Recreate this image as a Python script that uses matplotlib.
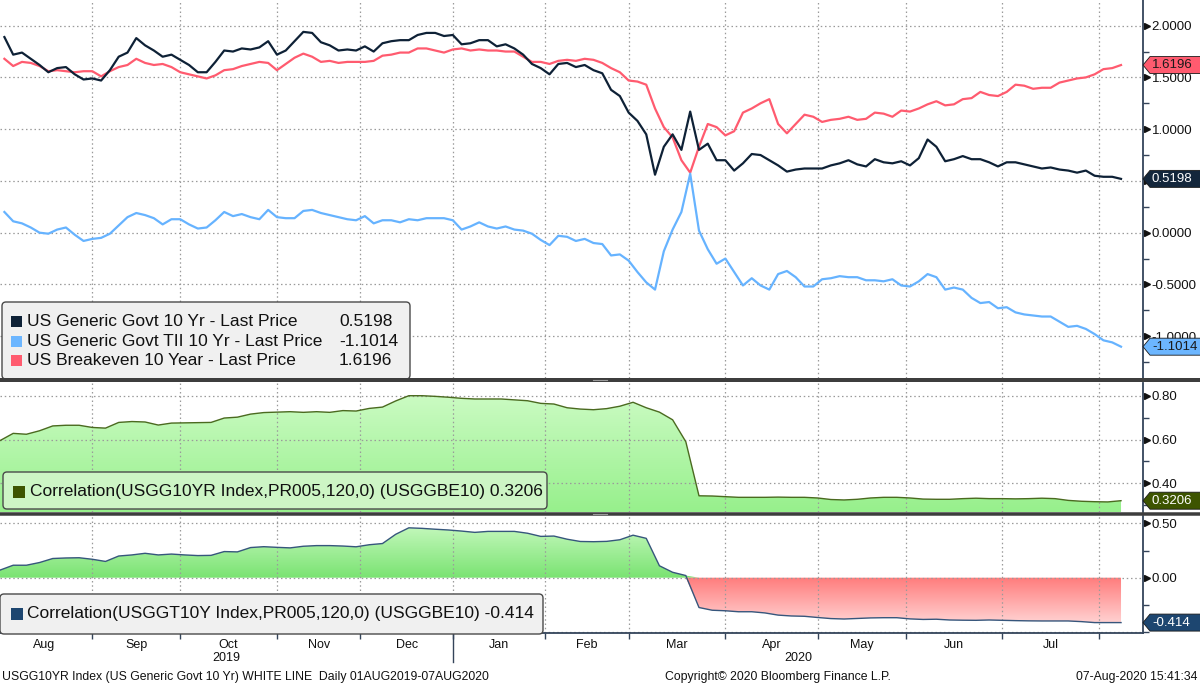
import numpy as np
import pandas as pd
import matplotlib
matplotlib.use("Agg")
import matplotlib.pyplot as plt
import matplotlib.transforms as mtransforms
from matplotlib.colors import LinearSegmentedColormap
from matplotlib.lines import Line2D
from matplotlib.patches import FancyBboxPatch, Polygon, Rectangle
from matplotlib.ticker import (FixedFormatter, FixedLocator, FuncFormatter,
                               MultipleLocator, NullFormatter)

plt.rcParams["font.family"] = ["Liberation Sans", "DejaVu Sans"]

# US bond market holidays -> the chart's x axis runs on trading days
holidays = ["2019-09-02", "2019-10-14", "2019-11-11", "2019-11-28", "2019-12-25",
            "2020-01-01", "2020-01-20", "2020-02-17", "2020-04-10", "2020-05-25",
            "2020-07-03"]
start, end = "2019-08-01", "2020-08-07"

us10y = [1.89, 1.72, 1.74, 1.68, 1.62, 1.55, 1.59, 1.60, 1.53, 1.48,
         1.49, 1.47, 1.57, 1.70, 1.74, 1.88, 1.81, 1.76, 1.70, 1.72,
         1.67, 1.62, 1.55, 1.55, 1.65, 1.76, 1.75, 1.78, 1.77, 1.79,
         1.85, 1.72, 1.76, 1.85, 1.94, 1.93, 1.84, 1.81, 1.76, 1.77,
         1.76, 1.80, 1.75, 1.83, 1.85, 1.86,
         1.86, 1.91, 1.93, 1.93, 1.90, 1.91, 1.82, 1.83, 1.86, 1.86,
         1.80, 1.82, 1.78, 1.72, 1.63, 1.59, 1.53, 1.63, 1.64, 1.60,
         1.62, 1.57, 1.54, 1.38, 1.32, 1.16, 1.08, 0.95, 0.56, 0.83,
         0.95, 0.80, 1.17, 0.80, 0.86, 0.70, 0.70, 0.60, 0.67, 0.76,
         0.75, 0.70, 0.65, 0.59, 0.61, 0.62,
         0.62, 0.62, 0.65, 0.67, 0.70, 0.66, 0.64, 0.71, 0.68, 0.67,
         0.69, 0.65, 0.72, 0.90, 0.83, 0.69, 0.71, 0.74, 0.71, 0.71,
         0.68, 0.64, 0.68, 0.68, 0.66, 0.64, 0.62, 0.63, 0.61, 0.60,
         0.58, 0.60, 0.55, 0.54, 0.54, 0.5198]
tips10y = [0.20, 0.11, 0.09, 0.05, 0.00, -0.01, 0.03, 0.05, -0.02, -0.08,
           -0.06, -0.05, -0.01, 0.07, 0.15, 0.19, 0.17, 0.14, 0.08, 0.13,
           0.13, 0.08, 0.04, 0.05, 0.12, 0.20, 0.16, 0.18, 0.15, 0.13,
           0.22, 0.15, 0.14, 0.14, 0.21, 0.22, 0.19, 0.17, 0.15, 0.13,
           0.12, 0.16, 0.09, 0.12, 0.12, 0.10,
           0.13, 0.12, 0.14, 0.14, 0.14, 0.12, 0.03, 0.06, 0.10, 0.06,
           0.04, 0.06, 0.03, 0.02, -0.01, -0.07, -0.12, -0.03, -0.04, -0.08,
           -0.06, -0.10, -0.11, -0.22, -0.21, -0.27, -0.38, -0.48, -0.55, -0.18,
           0.03, 0.20, 0.57, 0.02, -0.16, -0.30, -0.25, -0.38, -0.51, -0.44,
           -0.51, -0.55, -0.40, -0.37, -0.43, -0.52,
           -0.52, -0.45, -0.44, -0.42, -0.43, -0.43, -0.46, -0.46, -0.47, -0.45,
           -0.51, -0.52, -0.47, -0.40, -0.43, -0.55, -0.53, -0.55, -0.63, -0.68,
           -0.67, -0.73, -0.72, -0.77, -0.79, -0.80, -0.81, -0.81, -0.86, -0.91,
           -0.90, -0.93, -0.98, -1.04, -1.06, -1.1014]
bei10y = [1.68, 1.61, 1.65, 1.64, 1.61, 1.56, 1.57, 1.56, 1.55, 1.56,
          1.56, 1.51, 1.56, 1.60, 1.62, 1.68, 1.64, 1.62, 1.63, 1.60,
          1.55, 1.53, 1.51, 1.49, 1.52, 1.57, 1.58, 1.61, 1.63, 1.65,
          1.64, 1.57, 1.63, 1.69, 1.73, 1.70, 1.65, 1.66, 1.64, 1.65,
          1.65, 1.65, 1.66, 1.71, 1.72, 1.74,
          1.74, 1.78, 1.78, 1.76, 1.74, 1.77, 1.78, 1.76, 1.77, 1.76,
          1.76, 1.75, 1.75, 1.70, 1.65, 1.65, 1.63, 1.66, 1.67, 1.66,
          1.68, 1.67, 1.64, 1.59, 1.55, 1.47, 1.46, 1.43, 1.20, 1.02,
          0.92, 0.70, 0.58, 0.83, 1.05, 1.02, 0.94, 0.98, 1.16, 1.20,
          1.25, 1.29, 1.05, 0.96, 1.05, 1.14,
          1.12, 1.07, 1.09, 1.10, 1.12, 1.09, 1.10, 1.16, 1.15, 1.12,
          1.18, 1.17, 1.20, 1.24, 1.27, 1.23, 1.24, 1.29, 1.30, 1.36,
          1.33, 1.32, 1.36, 1.43, 1.42, 1.39, 1.40, 1.40, 1.45, 1.47,
          1.49, 1.50, 1.53, 1.58, 1.59, 1.6196]

# 120-day correlations, sampled every third trading day
corr_nom = [0.595, 0.628, 0.624, 0.640, 0.662, 0.665, 0.665, 0.655, 0.652, 0.678,
            0.682, 0.680, 0.666, 0.675, 0.676, 0.677, 0.678, 0.698, 0.702, 0.716,
            0.723, 0.725, 0.727, 0.724, 0.727, 0.724, 0.732, 0.730, 0.742, 0.748,
            0.776,
            0.800, 0.800, 0.797, 0.793, 0.788, 0.785, 0.785, 0.785, 0.781, 0.777,
            0.765, 0.762, 0.745, 0.739, 0.736, 0.741, 0.752, 0.770, 0.745, 0.725,
            0.690, 0.590, 0.343, 0.342, 0.339, 0.336, 0.336, 0.336, 0.337, 0.336,
            0.336,
            0.333, 0.326, 0.324, 0.327, 0.333, 0.336, 0.336, 0.333, 0.328, 0.327,
            0.327, 0.330, 0.332, 0.330, 0.330, 0.329, 0.330, 0.332, 0.330, 0.322,
            0.318, 0.316, 0.315, 0.3206]
corr_real = [0.07, 0.115, 0.115, 0.14, 0.177, 0.182, 0.184, 0.17, 0.15, 0.20,
             0.21, 0.225, 0.21, 0.218, 0.21, 0.204, 0.206, 0.241, 0.238, 0.278,
             0.286, 0.28, 0.275, 0.29, 0.296, 0.296, 0.292, 0.285, 0.304, 0.315,
             0.40,
             0.46, 0.455, 0.447, 0.44, 0.43, 0.418, 0.427, 0.427, 0.427, 0.41,
             0.381, 0.384, 0.355, 0.334, 0.332, 0.335, 0.35, 0.392, 0.363, 0.11,
             0.05, 0.02, -0.275, -0.30, -0.305, -0.314, -0.314, -0.325, -0.345, -0.353,
             -0.356,
             -0.367, -0.377, -0.381, -0.376, -0.371, -0.369, -0.369, -0.38, -0.385, -0.383,
             -0.39, -0.392, -0.393, -0.39, -0.393, -0.396, -0.398, -0.399, -0.399, -0.399,
             -0.405, -0.414, -0.414, -0.414]

names = ["US Generic Govt 10 Yr - Last Price",
         "US Generic Govt TII 10 Yr - Last Price",
         "US Breakeven 10 Year - Last Price"]
corr_names = ["Correlation(USGG10YR Index,PR005,120,0) (USGGBE10)",
              "Correlation(USGGT10Y Index,PR005,120,0) (USGGBE10)"]

days = pd.date_range(start, end, freq=pd.offsets.CustomBusinessDay(holidays=holidays))
t_px = days.get_indexer(days[1::2])
t_c = days.get_indexer(days[::3])

months = pd.date_range("2019-08-01", "2020-08-01", freq="MS")
bounds = days.searchsorted(months) - 1.0
mids = (bounds[:-1] + bounds[1:]) / 2
month_lbl = list(months[:-1].strftime("%b"))
XMAX = 260

W, H = 1200, 684
IDT = mtransforms.IdentityTransform()
AXC = "#34445a"
fig = plt.figure(figsize=(W / 100, H / 100), dpi=100)


def axes_px(top, bottom):
    return fig.add_axes([0, 1 - bottom / H, 1143 / W, (bottom - top) / H])


ax1 = axes_px(0, 378)
ax2 = axes_px(383, 512)
ax3 = axes_px(516, 633)


def gradient_fill(ax, x, lo, hi, c_top, c_bot, ylo, yhi):
    poly = ax.fill_between(x, lo, hi, facecolor="none", lw=0)
    cmap = LinearSegmentedColormap.from_list("g", [c_bot, c_top])
    grad = np.linspace(1, 0, 256).reshape(-1, 1)
    im = ax.imshow(grad, cmap=cmap, aspect="auto", origin="upper",
                   extent=[x[0], x[-1], ylo, yhi], zorder=0.8, interpolation="bilinear")
    im.set_clip_path(poly.get_paths()[0], transform=ax.transData)


# top panel: yields
ax1.plot(t_px, bei10y, color="#ff5b6f", lw=1.6)
ax1.plot(t_px, tips10y, color="#66b3ff", lw=1.6)
ax1.plot(t_px, us10y, color="#0e2136", lw=1.6)

# middle panel
cn = np.array(corr_nom)
gradient_fill(ax2, t_c, 0.2, cn, "#d0fcc8", "#97f08c", 0.269, 0.858)
ax2.plot(t_c, cn, color="#4b6a20", lw=1.0)

# bottom panel
cr = np.array(corr_real)
gradient_fill(ax3, t_c, 0, np.maximum(cr, 0), "#c8f9c0", "#7ae372", 0, 0.5)
gradient_fill(ax3, t_c, np.minimum(cr, 0), 0, "#ff7b7b", "#ffd8d8", -0.45, 0)
ax3.plot(t_c, cr, color="#36567c", lw=1.0)
ax3.axhline(-0.5, color="#9a9a9a", linestyle=(0, (1.2, 2.2)), lw=0.9, zorder=1.5)

# the 0.5000 label sits under the last-price tag in the original, so it is left blank
fmt_top = FuncFormatter(lambda v, p: "" if abs(v - 0.5) < 1e-9 else "%.4f" % v)
fmt_two = FuncFormatter(lambda v, p: "%.2f" % v)
specs = [(ax1, (-1.404, 2.248), [-1.0, -0.5, 0.0, 0.5, 1.0, 1.5, 2.0], 0.25, fmt_top),
         (ax2, (0.269, 0.858), [0.4, 0.6, 0.8], 0.1, fmt_two),
         (ax3, (-0.51, 0.569), [0.0, 0.5], 0.25, fmt_two)]
for ax, ylim, major, minor, fmt in specs:
    ax.set_xlim(0, XMAX)
    ax.set_ylim(*ylim)
    for s in ("top", "left", "bottom"):
        ax.spines[s].set_visible(False)
    ax.spines["right"].set_color(AXC)
    ax.spines["right"].set_linewidth(1.3)
    ax.set_axisbelow("line")
    ax.xaxis.set_major_locator(FixedLocator(bounds))
    ax.grid(True, which="major", color="#9a9a9a", linestyle=(0, (1.2, 2.2)), lw=0.9)
    ax.yaxis.tick_right()
    ax.yaxis.set_major_locator(FixedLocator(major))
    ax.yaxis.set_major_formatter(fmt)
    ax.yaxis.set_minor_locator(MultipleLocator(minor))
    ax.tick_params(axis="y", which="major", length=0, pad=6.3, labelsize=9.5, labelcolor="#111111")
    ax.tick_params(axis="y", which="minor", length=4, width=1, color=AXC, direction="out")
    ax.tick_params(axis="x", which="both", length=0, labelbottom=False)
    tr = mtransforms.blended_transform_factory(ax.transAxes, ax.transData) + \
        mtransforms.ScaledTranslation(0.035, 0, fig.dpi_scale_trans)
    ax.plot(np.ones(len(major)), major, ls="none", marker=">", ms=5, color="#111111",
            transform=tr, clip_on=False)

# x axis of the bottom panel
ax3.spines["bottom"].set_visible(True)
ax3.spines["bottom"].set_color(AXC)
ax3.spines["bottom"].set_linewidth(1.3)
ax3.xaxis.set_major_formatter(NullFormatter())
ax3.xaxis.set_minor_locator(FixedLocator(mids))
ax3.xaxis.set_minor_formatter(FixedFormatter(month_lbl))
ax3.tick_params(axis="x", which="major", length=4, width=1, color=AXC, direction="out")
ax3.tick_params(axis="x", which="minor", length=0, pad=4, labelsize=9, labelbottom=True,
                labelcolor="#111111")
xb = mtransforms.blended_transform_factory(ax3.transData, ax3.transAxes)
jan = bounds[5]
ax3.plot([jan, jan], [0, -0.25], color=AXC, lw=1, transform=xb, clip_on=False)
ax3.text(jan / 2, -0.215, "2019", transform=xb, ha="center", va="center", fontsize=9, color="#111111")
ax3.text((jan + XMAX) / 2, -0.215, "2020", transform=xb, ha="center", va="center", fontsize=9,
         color="#111111")


def tag(ax, val, txt, fc, tc):
    y = ax.transData.transform((0, val))[1]
    x0 = ax.transAxes.transform((1, 0))[0]
    h = 8.5
    fig.add_artist(Polygon([(x0, y), (x0 + 7, y + h), (W + 2, y + h), (W + 2, y - h), (x0 + 7, y - h)],
                           closed=True, fc=fc, ec="#1a1a1a", lw=0.6, transform=IDT, zorder=7))
    fig.text(x0 + 9, y, txt, color=tc, fontsize=9.5, ha="left", va="center",
             transform=IDT, zorder=8)


tag(ax1, bei10y[-1], "%.4f" % bei10y[-1], "#ff5b6f", "#1a1a1a")
tag(ax1, us10y[-1], "%.4f" % us10y[-1], "#13263b", "white")
tag(ax1, tips10y[-1], "%.4f" % tips10y[-1], "#6cb6ff", "#1a1a1a")
tag(ax2, corr_nom[-1], "%.4f" % corr_nom[-1], "#3d5400", "white")
tag(ax3, corr_real[-1], "%.3f" % corr_real[-1], "#1d4670", "white")


def box(x0, y0, x1, y1, fc):
    fig.add_artist(FancyBboxPatch((x0, H - y1), x1 - x0, y1 - y0,
                                  boxstyle="round,pad=0,rounding_size=4", fc=fc, ec="#4a4a4a",
                                  lw=1, transform=IDT, zorder=5))


def swatch(x, y, size, color):
    fig.add_artist(Rectangle((x, H - y - size / 2), size, size, fc=color, ec="none",
                             transform=IDT, zorder=6))


def label(x, y, s, size=12.5, **kw):
    fig.text(x, H - y, s, fontsize=size, va="center", color="#111111", transform=IDT,
             zorder=6, **kw)


# legends
box(2, 302, 410, 379, "#f0f0f0")
for name, vals, col, yrow in zip(names, (us10y, tips10y, bei10y),
                                 ("#0e2136", "#6cb6ff", "#ff5b6f"), (321.7, 341.2, 360.7)):
    swatch(11, yrow, 11, col)
    label(27, yrow, name)
    label(339, yrow, "%.4f" % vals[-1])

box(3, 472, 547, 509, "#cdf5c5")
swatch(13, 491.7, 12, "#3d5400")
label(29.5, 491.7, "%s %.4f" % (corr_names[0], corr_nom[-1]))

box(0, 594, 543, 634, "#f0f0f0")
swatch(11, 613.7, 12, "#1d4670")
label(27, 613.7, "%s %.3f" % (corr_names[1], corr_real[-1]))

# panel separators with the little splitter grip in the middle
for yc, w in ((380, 4), (513.5, 3.5)):
    fig.add_artist(Line2D([0, W], [H - yc, H - yc], color="#3d3d3d", lw=w * 0.72,
                          transform=IDT, zorder=6))
    fig.add_artist(Line2D([593, 607], [H - yc, H - yc], color="#9a9a9a", lw=0.8,
                          transform=IDT, zorder=6))

# footer
label(2, 677, "USGG10YR Index (US Generic Govt 10 Yr) WHITE LINE  Daily 01AUG2019-07AUG2020", 8.8)
label(778, 677, "Copyright\u00a9 2020 Bloomberg Finance L.P.", 8.8, ha="center")
label(1197, 677, "07-Aug-2020 15:41:34", 8.8, ha="right")

fig.savefig("out.png", dpi=100, facecolor="white")
